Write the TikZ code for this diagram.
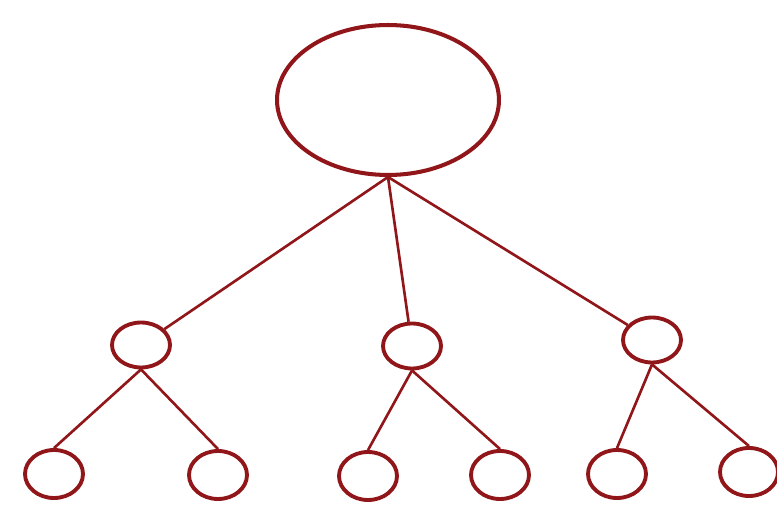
\documentclass[tikz,border=0pt]{standalone}
\usepackage{tikz}
\usetikzlibrary{shapes.geometric}
\definecolor{treered}{RGB}{145,22,26}

\begin{document}
\begin{tikzpicture}[
    x=0.02cm, y=-0.02cm,
    bignode/.style={draw=treered, ellipse, line width=2.3pt, inner sep=0pt, minimum width=4.44cm, minimum height=3cm},
    midnode/.style={draw=treered, ellipse, line width=2.2pt, inner sep=0pt, minimum width=1.16cm, minimum height=0.9cm},
    leafnode/.style={draw=treered, ellipse, line width=2.2pt, inner sep=0pt, minimum width=1.16cm, minimum height=0.96cm},
    edge/.style={draw=treered, line width=1.5pt}
]
\useasboundingbox (0,0) rectangle (777,509);
\node[bignode] (root) at (388,100) {};
\node[midnode] (a) at (141,345) {};
\node[midnode] (b) at (412,346) {};
\node[midnode] (c) at (652,340) {};
\node[leafnode] (a1) at (54,474) {};
\node[leafnode] (a2) at (218,475) {};
\node[leafnode] (b1) at (368,476) {};
\node[leafnode] (b2) at (500,475) {};
\node[leafnode] (c1) at (617,474) {};
\node[leafnode] (c2) at (749,472) {};

\draw[edge] (root.south) -- (a);
\draw[edge] (root.south) -- (b);
\draw[edge] (root.south) -- (c);
\draw[edge] (a.south) -- (a1.north);
\draw[edge] (a.south) -- (a2.north);
\draw[edge] (b.south) -- (b1.north);
\draw[edge] (b.south) -- (b2.north);
\draw[edge] (c.south) -- (c1.north);
\draw[edge] (c.south) -- (c2.north);
\end{tikzpicture}
\end{document}
